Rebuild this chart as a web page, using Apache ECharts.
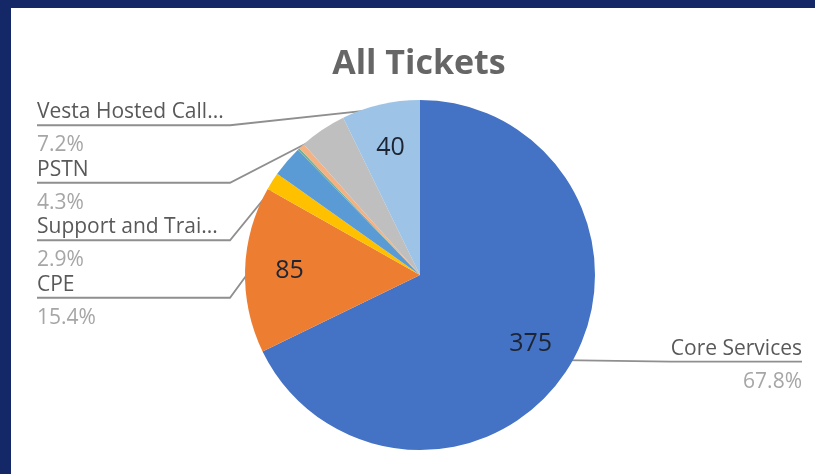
<!DOCTYPE html>
<html><head><meta charset="utf-8">
<script src="https://cdn.jsdelivr.net/npm/echarts@6/dist/echarts.min.js"></script>
<style>
html,body{margin:0;padding:0;width:815px;height:474px;overflow:hidden;background:#142868;}
#panel{position:absolute;left:11px;top:8px;right:0;bottom:0;background:#ffffff;}
#chart{position:absolute;left:0;top:0;width:815px;height:474px;}
</style></head><body>
<div id="panel"></div><div id="chart"></div>
<script>
// ---- data ----
const chartTitle = 'All Tickets';
const categories = ['Core Services', 'CPE', '', 'Support and Trai...', '', '', 'PSTN', 'Vesta Hosted Call...'];
const values = [375, 85, 9, 16, 1, 3, 24, 40];
const sliceColors = ['#4472C4', '#ED7D31', '#FFC000', '#5B9BD5', '#6FAF9A', '#F4B183', '#BFBFBF', '#9DC3E6'];

// ---- layout / style ----
const FONT = 'Open Sans';
const CX = 420, CY = 275, R = 175, R_LINE = 167, LABEL_TOP = 100, UNDERLINE = 193, LINE_DY = -3.5;
const total = values.reduce((a, b) => a + b, 0);
const pct = v => (v / total * 100).toFixed(1) + '%';

// mid angle (clockwise from top) decides the side of the callout
let acc = 0;
const sides = values.map(v => { const mid = (acc + v / 2) / total * 360; acc += v; return mid < 180 ? 'right' : 'left'; });

const mainData = categories.map((n, i) => ({ name: n, value: values[i], itemStyle: { color: sliceColors[i] } }));
const valueData = categories.map((n, i) => ({ name: n, value: values[i], label: { show: values[i] >= 40 } }));
const calloutData = categories.map((n, i) => ({
  name: n, value: values[i],
  label: { show: n !== '', edgeDistance: sides[i] === 'right' ? 13 : 37 },
  labelLine: { show: n !== '' }
}));

const chart = echarts.init(document.getElementById('chart'), null, { renderer: 'canvas' });
chart.setOption({
  animation: false,
  backgroundColor: 'transparent',
  title: {
    text: chartTitle, left: 414, top: 42, textAlign: 'center',
    textStyle: { fontFamily: FONT, fontSize: 34, fontWeight: 'bold', color: '#666666' }
  },
  series: [
    {
      type: 'pie', center: [CX, CY], radius: R, silent: true,
      itemStyle: { borderWidth: 0 },
      label: { show: false }, labelLine: { show: false },
      data: mainData
    },
    {
      type: 'pie', center: [CX, CY], radius: [80, R], silent: true,
      itemStyle: { color: 'transparent', borderWidth: 0 },
      label: { position: 'inside', formatter: '{c}', fontFamily: FONT, fontSize: 25, color: '#1d2535' },
      labelLine: { show: false },
      data: valueData
    },
    {
      type: 'pie', left: 0, right: 0, top: LABEL_TOP, bottom: 0,
      center: [CX, CY - LABEL_TOP], radius: R_LINE, silent: true,
      itemStyle: { color: 'transparent', borderWidth: 0 },
      avoidLabelOverlap: true,
      label: {
        position: 'outer', alignTo: 'edge', overflow: 'none', minMargin: 3.5,
        distanceToLabelLine: 0,
        formatter: p => '{n|' + p.name + '}\n{p|' + pct(p.value) + '}',
        rich: {
          n: { fontFamily: FONT, fontSize: 21, color: '#595959', lineHeight: 36 },
          p: { fontFamily: FONT, fontSize: 21, color: '#a6a6a6', lineHeight: 30 }
        }
      },
      labelLine: { length: 0, length2: 4, lineStyle: { color: '#8f8f8f', width: 1.8 } },
      labelLayout: function (params) {
        const r = params.labelRect, pts = params.labelLinePoints;
        if (!pts) return {};
        const isLeft = r.x + r.width / 2 < CX;
        const y = r.y + r.height / 2 + LINE_DY;
        const inner = isLeft ? r.x + UNDERLINE : r.x;
        const outer = isLeft ? r.x : r.x + r.width;
        return { labelLinePoints: [[pts[0][0], pts[0][1] + LINE_DY], [inner, y], [outer, y]] };
      },
      data: calloutData
    }
  ]
});
</script>
</body></html>
